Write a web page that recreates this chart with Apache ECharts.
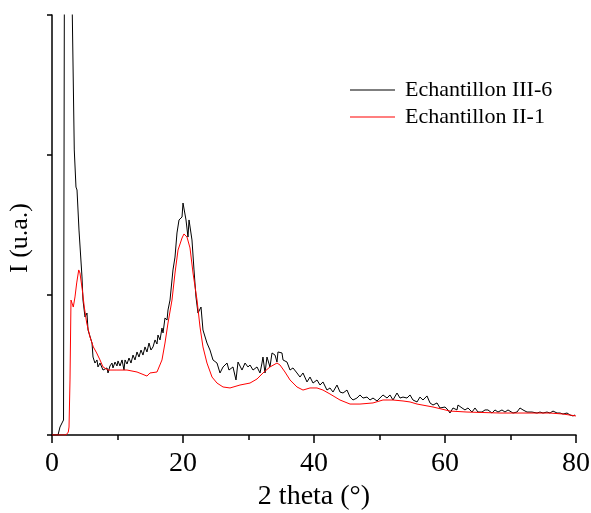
<!DOCTYPE html>
<html>
<head>
<meta charset="utf-8">
<script src="https://cdn.jsdelivr.net/npm/echarts@6/dist/echarts.min.js"></script>
<style>html,body{margin:0;padding:0;background:#fff}#c{width:591px;height:513px}</style>
</head>
<body>
<div id="c"></div>
<script>
var seriesNames = ['Echantillon III-6', 'Echantillon II-1'];
var xTicks = [0, 20, 40, 60, 80];
var xTitle = '2 theta (\u00B0)';
var yTitle = 'I (u.a.)';

var blackX = [0,0.92,1.22,1.53,1.76,1.88,2.06,2.29,2.75,3.10,3.40,3.66,3.82,4.12,4.58,4.73,5.04,5.34,5.50,6.11,6.26,6.56,6.87,7.02,7.33,7.79,8.40,8.55,8.85,9.16,9.31,9.62,9.92,10.08,10.38,10.69,10.99,11.15,11.45,11.76,12.06,12.37,12.67,12.98,13.28,13.59,13.89,14.20,14.50,14.81,15.11,15.42,15.73,16.03,16.18,16.49,16.79,16.95,17.25,17.56,17.71,18.02,18.47,18.78,19.08,19.39,19.85,20.00,20.46,20.76,20.92,21.37,21.68,21.98,22.29,22.75,23.05,23.66,24.12,24.58,25.19,25.65,26.11,26.72,27.02,27.63,28.09,28.40,29.01,29.47,29.92,30.23,30.69,31.30,31.76,32.06,32.21,32.52,32.82,33.28,33.59,34.05,34.35,34.50,35.11,35.27,35.88,36.34,36.79,37.40,37.86,38.32,38.93,39.39,39.85,40.46,40.92,41.37,41.98,42.44,42.90,43.51,43.97,44.43,45.04,45.50,45.95,46.56,47.02,47.48,48.09,48.55,49.01,49.62,50.53,51.15,51.60,52.06,52.67,53.13,53.59,54.20,54.66,55.11,55.73,56.18,56.64,57.25,57.71,58.17,58.78,59.24,60.00,60.46,60.76,61.22,61.83,61.98,62.60,63.05,63.51,64.12,64.58,65.04,65.65,66.11,66.56,67.18,67.63,68.09,68.70,69.16,69.62,70.38,70.99,71.45,71.91,72.52,73.28,74.05,74.50,74.96,75.57,76.03,76.49,77.10,77.56,78.02,78.63,79.08,79.54,79.85];
var blackY = [0,0,57,86,107,3000,7393,8821,5964,3000,2036,1771,1750,1464,1129,964,843,871,750,657,557,514,536,486,514,464,479,443,493,514,479,521,493,529,493,536,464,536,507,550,514,571,536,593,557,607,571,629,593,657,607,629,679,650,714,679,764,729,836,821,893,964,1179,1271,1443,1536,1557,1657,1536,1414,1536,1393,1179,986,871,914,750,657,607,536,514,443,486,514,464,486,393,521,464,514,486,500,464,486,443,514,557,443,557,486,586,571,521,593,586,536,521,464,479,443,414,443,379,414,371,393,357,379,321,336,307,357,307,300,321,271,250,264,286,264,271,250,264,243,286,264,286,250,300,264,271,264,286,250,236,271,250,279,229,214,229,193,200,179,157,193,179,214,193,179,193,164,193,164,164,179,179,157,179,164,179,164,179,157,164,193,179,164,164,157,164,157,164,157,171,157,157,150,157,143,136,143];

var redX = [0,1.22,2.14,2.49,2.60,2.75,2.90,3.05,3.25,3.51,3.77,4.08,4.27,4.63,4.93,5.30,5.80,6.31,6.82,7.33,7.79,8.55,9.92,11.45,12.98,14.50,14.96,16.03,16.79,17.25,17.71,18.32,18.78,19.24,19.85,20.15,20.61,21.07,21.53,22.14,22.60,23.05,23.66,24.43,25.19,26.11,27.18,28.70,30.23,31.30,32.21,33.28,34.35,34.81,35.57,36.34,37.40,38.32,39.39,40.46,41.37,42.44,43.97,45.50,47.02,49.01,50.53,52.06,53.59,54.66,55.73,58.17,60.76,63.36,68.40,73.44,76.03,78.00,80.00];
var redY = [0,0,0,21,57,393,964,950,914,986,1086,1179,1157,1036,914,800,700,629,586,536,486,464,464,464,450,421,443,450,536,657,800,964,1157,1321,1407,1436,1414,1336,1157,964,771,629,514,414,371,343,336,357,371,400,443,486,514,500,450,393,343,321,336,336,321,293,250,221,221,229,250,250,243,236,221,200,171,164,157,157,157,150,136];

function pairs(xs, ys) { return xs.map(function (x, i) { return [x, ys[i]]; }); }

var serif = '"Liberation Serif", "Times New Roman", serif';
var chart = echarts.init(document.getElementById('c'), null, { renderer: 'canvas' });
chart.setOption({
  animation: false,
  backgroundColor: '#fff',
  grid: { left: 52, right: 15, top: 15, bottom: 78, containLabel: false, outerBoundsMode: 'none' },
  legend: {
    orient: 'vertical', left: 345, top: 74, itemGap: 5,
    itemWidth: 45, itemHeight: 22,
    textStyle: { fontFamily: serif, fontSize: 22, color: '#000', padding: [0, 0, 0, 5] },
    data: seriesNames.map(function (n) { return { name: n, icon: 'path://M0,0L45,0L45,1L0,1Z' }; })
  },
  xAxis: {
    type: 'value', min: 0, max: 80, interval: 20,
    axisLine: { lineStyle: { color: '#000', width: 1.5 } },
    axisTick: { show: true, inside: false, length: 8, lineStyle: { color: '#000', width: 1.5 } },
    minorTick: { show: true, splitNumber: 2, length: 5, lineStyle: { color: '#000', width: 1.5 } },
    splitLine: { show: false },
    axisLabel: { fontFamily: serif, fontSize: 28, color: '#000', margin: 15,
      formatter: function (v) { return xTicks.indexOf(v) >= 0 ? String(v) : ''; } },
    name: xTitle, nameLocation: 'middle', nameGap: 45,
    nameTextStyle: { fontFamily: serif, fontSize: 28, color: '#000' }
  },
  yAxis: {
    type: 'value', min: 0, max: 3000, interval: 1000,
    axisLine: { show: true, lineStyle: { color: '#000', width: 1.5 } },
    axisTick: { show: true, inside: false, length: 5, lineStyle: { color: '#000', width: 1.5 } },
    splitLine: { show: false },
    axisLabel: { show: false }
  },
  graphic: [{
    type: 'text', left: 7, top: 203, rotation: Math.PI / 2,
    style: { text: yTitle, font: '26px ' + serif, fill: '#000' }
  }],
  series: [
    { name: seriesNames[0], type: 'line', data: pairs(blackX, blackY), showSymbol: false, symbol: 'none',
      lineStyle: { color: '#000', width: 1 }, itemStyle: { color: '#000' }, clip: true, z: 2 },
    { name: seriesNames[1], type: 'line', data: pairs(redX, redY), showSymbol: false, symbol: 'none',
      lineStyle: { color: '#ff0000', width: 1 }, itemStyle: { color: '#ff0000' }, clip: true, z: 3 }
  ]
});
</script>
</body>
</html>
